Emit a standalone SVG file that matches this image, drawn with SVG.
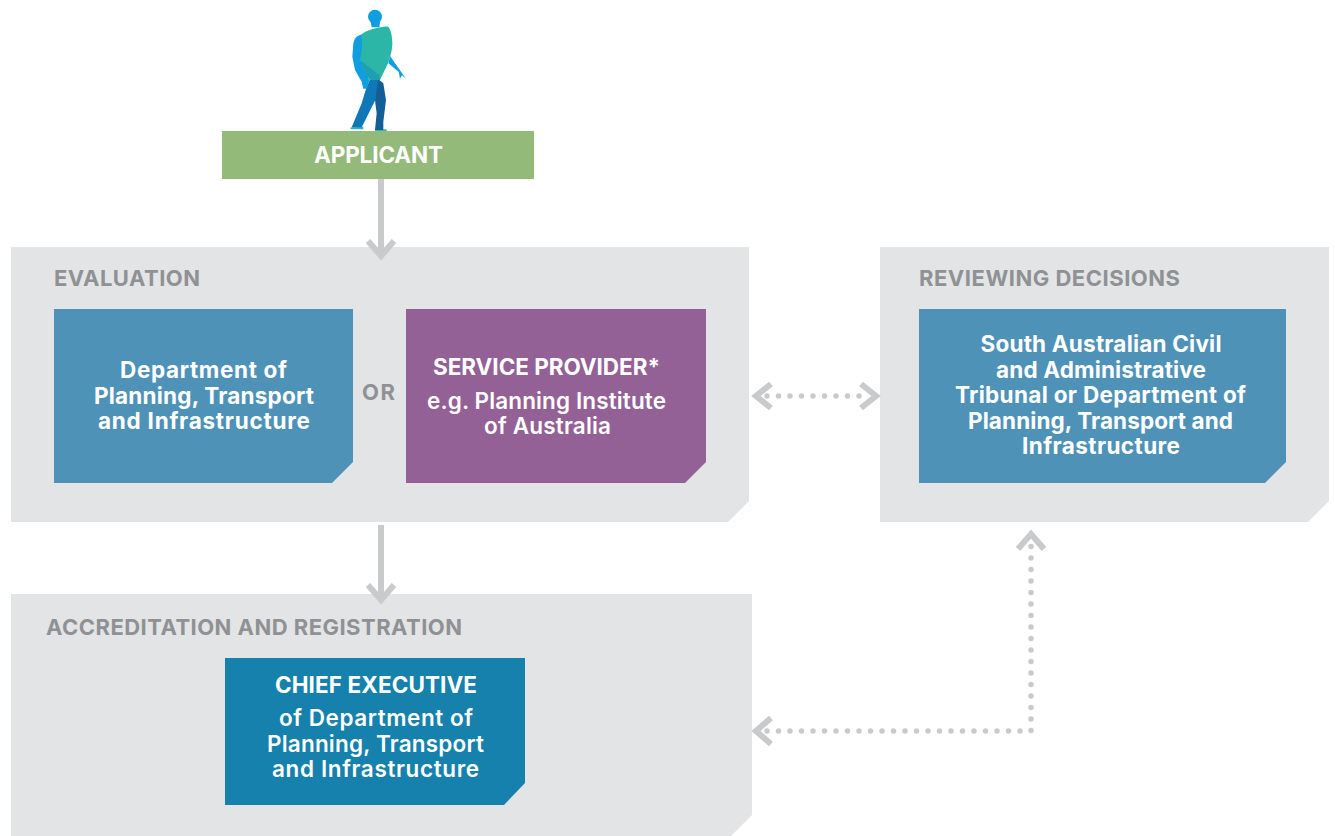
<svg xmlns="http://www.w3.org/2000/svg" width="1335" height="836" viewBox="0 0 1335 836">
<style>
text{font-family:"Inter","Liberation Sans",sans-serif;font-weight:700;text-anchor:middle}
.panel{fill:#e3e4e6}
.h{fill:#8f9194;font-size:22px}
.w{fill:#fff;font-size:22.5px}
.n{font-weight:600}
.solid{fill:none;stroke:#c9cacc;stroke-width:6}
.dot{fill:none;stroke:#c9cacc;stroke-width:5.5;stroke-linecap:round;stroke-dasharray:0 11.5}
</style>
<rect width="1335" height="836" fill="#fff"/>
<g id="figure" transform="translate(320 0) scale(.3333)">
<path d="M95 382C88 384 90 388 98 388H130V380Z" fill="#2cb6b0"/>
<path d="M165 388H200V394H165Z" fill="#2cb6b0"/>
<path d="M150 238H178L166 300L135 362L125 382L95 382L125 310L140 260Z" fill="#1077b8"/>
<path d="M175 238L190 250L198 300L190 365L190 390L165 390L170 340L165 300Z" fill="#125f96"/>
<path d="M210 168L250 225L258 236L246 226L240 236L236 215L205 190Z" fill="#0f9fe0"/>
<circle cx="165" cy="50" r="21" fill="#0f9fe0"/>
<path d="M150 55H182L178 82H155Z" fill="#0f9fe0"/>
<path d="M100 130C104 112 115 104 130 103L128 180L148 240L141 266L130 266L125 245L105 210L97 170Z" fill="#0f9fe0"/>
<path d="M125 103C140 90 185 78 205 80C214 92 218 115 217 135C216 155 210 172 204 190L180 240H150L135 215L120 180C126 155 128 130 125 103Z" fill="#2cb6a8"/>
<path d="M120 180L178 225L180 240H150L135 215Z" fill="#1f9fb0"/>
</g>
<g id="applicant">
<rect x="222" y="131" width="312" height="48" fill="#93ba78"/>
<text class="w" x="378.5" y="163" textLength="129">APPLICANT</text>
</g>
<g id="evaluation">
<path class="panel" d="M11 247H749V501L728 522H11Z"/>
<text class="h" x="127" y="286" textLength="146">EVALUATION</text>
</g>
<g id="department">
<path d="M54 309H353V462L332 483H54Z" fill="#4f92b7"/>
<text class="w" x="203.5" y="378" textLength="167">Department of</text>
<text class="w" x="204" y="404" textLength="220">Planning, Transport</text>
<text class="w" x="204" y="429" textLength="212">and Infrastructure</text>
</g>
<text id="or" x="378.5" y="400" fill="#8f9194" font-size="22" textLength="33">OR</text>
<g id="service-provider">
<path d="M406 309H706V462L685 483H406Z" fill="#936196"/>
<text class="w" x="546.5" y="375" textLength="227">SERVICE PROVIDER*</text>
<text class="w n" x="546.5" y="409" textLength="239">e.g. Planning Institute</text>
<text class="w n" x="547.5" y="434" textLength="127">of Australia</text>
</g>
<g id="reviewing">
<path class="panel" d="M880 247H1329V501L1308 522H880Z"/>
<text class="h" x="1049.5" y="286" textLength="261">REVIEWING DECISIONS</text>
</g>
<g id="tribunal">
<path d="M919 309H1286V462L1265 483H919Z" fill="#4f92b7"/>
<text class="w" x="1101" y="352" textLength="241">South Australian Civil</text>
<text class="w" x="1101" y="378" textLength="210">and Administrative</text>
<text class="w" x="1100.5" y="403" textLength="291">Tribunal or Department of</text>
<text class="w" x="1100.5" y="429" textLength="265">Planning, Transport and</text>
<text class="w" x="1101" y="454" textLength="158">Infrastructure</text>
</g>
<g id="accreditation">
<path class="panel" d="M11 594H752V815L731 836H11Z"/>
<text class="h" x="254" y="635" textLength="416">ACCREDITATION AND REGISTRATION</text>
</g>
<g id="chief-executive">
<path d="M225 658H525V783L504 805H225Z" fill="#1581ac"/>
<text class="w" x="376" y="693" textLength="202">CHIEF EXECUTIVE</text>
<text class="w n" x="376" y="726" textLength="194">of Department of</text>
<text class="w n" x="375.5" y="752" textLength="217">Planning, Transport</text>
<text class="w n" x="375.5" y="777" textLength="207">and Infrastructure</text>
</g>
<g id="connectors">
<path class="solid" d="M381 179V256M368 241L381 256L394 241"/>
<path class="solid" d="M381 525V599M368 585L381 600L394 585"/>
<path class="dot" d="M767 396H866"/>
<path class="solid" d="M771 384L756 396L771 408M861 384L876 396L861 408"/>
<path class="dot" d="M767 731H1031V545"/>
<path class="solid" d="M771 718L756 731L771 744M1018 549L1031 534L1044 549"/>
</g>
</svg>
